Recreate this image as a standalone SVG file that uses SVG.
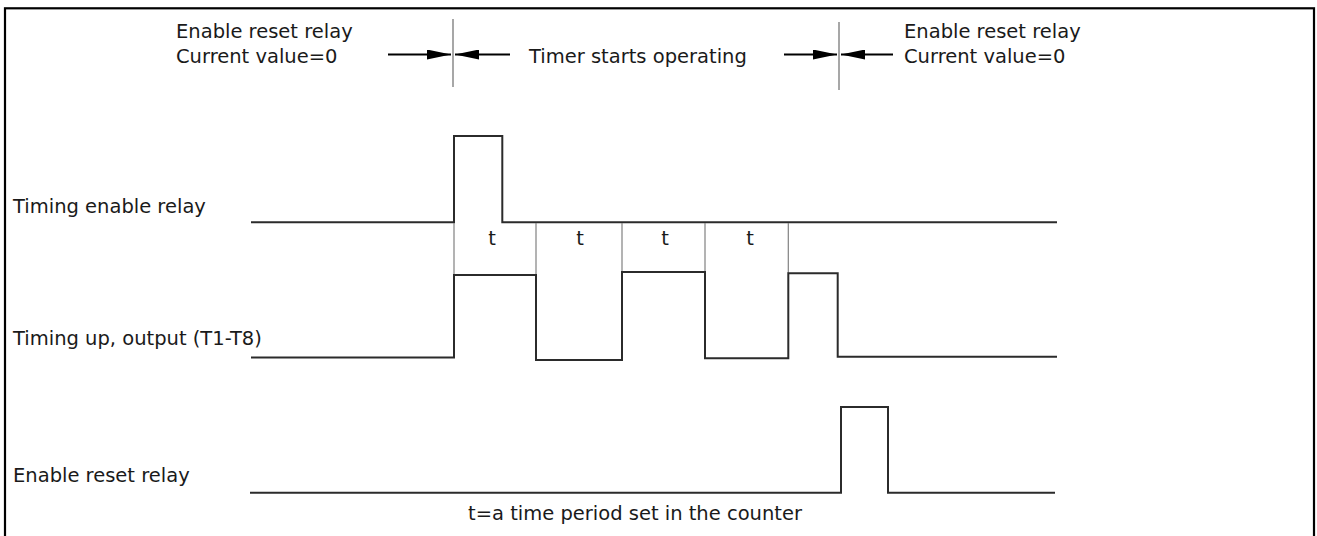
<svg xmlns="http://www.w3.org/2000/svg" width="1317" height="536" viewBox="0 0 1317 536">
  <style>
    .lbl { font-family: "DejaVu Sans", "Liberation Sans", sans-serif; font-size: 19.5px; fill: #1a1a1a; }
    .sig { fill: none; stroke: #2b2b2b; stroke-width: 2; stroke-linejoin: miter; }
    .div { stroke: #808080; stroke-width: 1.2; }
    .mark { stroke: #8a8a8a; stroke-width: 1.5; }
    .arr { stroke: #000; stroke-width: 2; marker-end: url(#head); }
  </style>
  <defs>
    <marker id="head" markerUnits="userSpaceOnUse" markerWidth="24" markerHeight="10" refX="24" refY="5" orient="auto">
      <path d="M0,0 L24,5 L0,10 z" fill="#000"/>
    </marker>
  </defs>
  <rect x="0" y="0" width="1317" height="536" fill="#fff"/>
  <rect id="frame" x="5" y="8.3" width="1309" height="540" fill="none" stroke="#000" stroke-width="2.2"/>

  <g id="top-labels">
    <text class="lbl" x="176" y="38">Enable reset relay</text>
    <text class="lbl" x="176" y="63">Current value=0</text>
    <text class="lbl" x="529" y="63">Timer starts operating</text>
    <text class="lbl" x="904" y="38">Enable reset relay</text>
    <text class="lbl" x="904" y="63">Current value=0</text>
  </g>

  <g id="connectors">
    <line class="mark" x1="453" y1="19" x2="453" y2="87"/>
    <line class="mark" x1="839" y1="22" x2="839" y2="90"/>
    <line class="arr" x1="388" y1="54.5" x2="451" y2="54.5"/>
    <line class="arr" x1="510" y1="54.5" x2="455" y2="54.5"/>
    <line class="arr" x1="784" y1="54.5" x2="837" y2="54.5"/>
    <line class="arr" x1="893" y1="54.5" x2="841" y2="54.5"/>
  </g>

  <g id="timing-enable-relay">
    <text class="lbl" x="13" y="213">Timing enable relay</text>
    <path class="sig" d="M251,222.3 H454 V136 H502.3 V222.3 H1057"/>
  </g>

  <g id="periods">
    <line class="div" x1="454" y1="223" x2="454" y2="275"/>
    <line class="div" x1="536" y1="223" x2="536" y2="275"/>
    <line class="div" x1="622" y1="223" x2="622" y2="272"/>
    <line class="div" x1="705" y1="223" x2="705" y2="272"/>
    <line class="div" x1="788.3" y1="223" x2="788.3" y2="273"/>
    <text class="lbl" x="492" y="245" text-anchor="middle">t</text>
    <text class="lbl" x="580" y="245" text-anchor="middle">t</text>
    <text class="lbl" x="665" y="245" text-anchor="middle">t</text>
    <text class="lbl" x="750" y="245" text-anchor="middle">t</text>
  </g>

  <g id="timing-up-output">
    <text class="lbl" x="13" y="345">Timing up, output (T1-T8)</text>
    <path class="sig" d="M251,357.5 H454 V275 H536 V360 H622 V272 H705 V358.3 H788.3 V273.3 H837.7 V356.7 H1057"/>
  </g>

  <g id="enable-reset-relay">
    <text class="lbl" x="13" y="482">Enable reset relay</text>
    <path class="sig" d="M250,492.7 H841 V407 H888 V492.7 H1055"/>
  </g>

  <g id="footnote">
    <text class="lbl" x="635" y="520" text-anchor="middle">t=a time period set in the counter</text>
  </g>
</svg>
